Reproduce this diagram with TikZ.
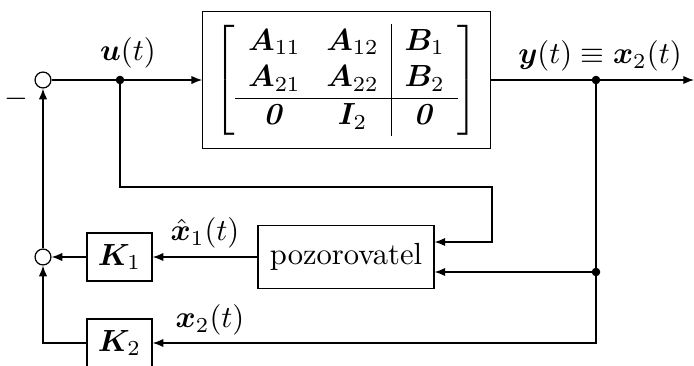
\documentclass[tikz,border=0pt]{standalone}
\usepackage{amsmath}
\usepackage{bm}
\usetikzlibrary{arrows.meta,calc,positioning}
\tikzset{
  >={Latex[length=3.5pt,width=2.7pt]},
  flow/.style={->,draw=black,line width=0.4pt},
  flowline/.style={draw=black,line width=0.4pt},
  blok/.style={
    draw=black,
    rectangle,
    minimum width=21.3pt,
    minimum height=15.7pt,
    inner sep=2pt,
    align=center
  },
  sumnode/.style={
    draw=black,
    circle,
    fill=white,
    minimum size=5.2pt,
    inner sep=0pt
  },
  lbl/.style={inner sep=0pt}
}
\newcommand{\junction}[1]{\fill (#1) circle (1.4pt)}

\begin{document}
\begin{tikzpicture}[x=0.327pt,y=-0.327pt]
  \useasboundingbox (0,0) rectangle (694,365);

  % Summing points
  \node[sumnode] (sumtop) at (43,80) {};
  \node[sumnode] (sumbot) at (43,257) {};
  \node[lbl] (minus) at (16,99) {$-$};

  % Plant
  \node[blok,minimum width=94pt,minimum height=45pt] (plant) at (346.5,80) {%
    \setlength{\arraycolsep}{4.2pt}%
    $\left[\begin{array}{cc|c}
      \bm{A}_{11} & \bm{A}_{12} & \bm{B}_1\\
      \bm{A}_{21} & \bm{A}_{22} & \bm{B}_2\\ \hline
      \bm{\mathit{0}} & \bm{I}_2 & \bm{\mathit{0}}
    \end{array}\right]$};

  % Observer and gains
  \node[blok,minimum width=57.5pt,minimum height=20.6pt] (obs) at (346,257) {pozorovatel};
  \node[blok] (k1) at (119.5,257) {$\bm{K}_1$};
  \node[blok] (k2) at (119.5,343) {$\bm{K}_2$};

  \coordinate (usplit) at (120,80);
  \coordinate (ucorner) at (492,187);
  \coordinate (ysplit) at (596,80);
  \coordinate (xsplit) at (596,272);
  \coordinate (yout) at (694,80);
  \coordinate (obsin) at ($(obs.east)+(0,-15)$);

  % Forward path
  \draw[flow] (sumtop.east) -- (plant.west);
  \draw[flow] (plant.east) -- (yout);
  \junction{usplit};
  \junction{ysplit};
  \junction{xsplit};

  % Observer inputs
  \draw[flow] (usplit) |- (ucorner) |- (obsin);
  \draw[flowline] (ysplit) -- (xsplit);
  \draw[flow] (xsplit) -- (obs.east |- xsplit);

  % Feedback
  \draw[flow] (obs.west) -- (k1.east);
  \draw[flow] (k1.west) -- (sumbot.east);
  \draw[flow] (xsplit) |- (k2.east);
  \draw[flow] (k2.west) -| (sumbot.south);
  \draw[flow] (sumbot.north) -- (sumtop.south);

  % Signal labels
  \node[lbl] (ulbl) at (128,53) {$\bm{u}(t)$};
  \node[lbl] (ylbl) at (600,56) {$\bm{y}(t)\equiv\bm{x}_2(t)$};
  \node[lbl] (x1lbl) at (205,233) {$\hat{\bm{x}}_1(t)$};
  \node[lbl] (x2lbl) at (210,320) {$\bm{x}_2(t)$};
\end{tikzpicture}
\end{document}
